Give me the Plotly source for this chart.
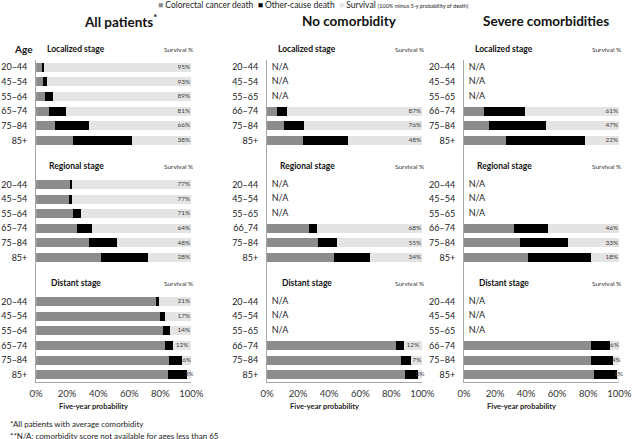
import plotly.graph_objects as go

# age groups per panel (three stages x six ages)
ages_all = ["20–44", "45–54", "55–64", "65–74", "75–84", "85+"] * 3
ages_none = (["20–44", "45–54", "55–65", "66–74", "75–84", "85+"]
             + ["20–44", "45–54", "55–65", "66_74", "75–84", "85+"]
             + ["20–44", "45–54", "55–65", "66–74", "75–84", "85+"])
ages_severe = ["20–44", "45–54", "55–65", "66–74", "75–84", "85+"] * 3
stages = ["Localized stage", "Regional stage", "Distant stage"]
ticks_x = [0, 20, 40, 60, 80, 100]

# five-year probabilities (%), None = N/A
all_crc = [3.5, 4.5, 5.5, 8, 12, 24, 22, 21, 24, 26.5, 34, 42, 77, 80, 82, 83, 85.5, 85]
all_other = [1.5, 2.5, 5.5, 11, 22, 38, 1, 2, 5, 9.5, 18, 30, 2, 3, 4, 5, 8.5, 12]
all_surv = [95, 93, 89, 81, 66, 38, 77, 77, 71, 64, 48, 28, 21, 17, 14, 12, 6, 3]

none_crc = [None, None, None, 6.5, 11, 23, None, None, None, 27, 33, 43, None, None, None, 83, 86, 89]
none_other = [None, None, None, 6.5, 13, 29, None, None, None, 5, 12, 23, None, None, None, 5, 7, 8]
none_surv = [None, None, None, 87, 76, 48, None, None, None, 68, 55, 34, None, None, None, 12, 7, 3]

sev_crc = [None, None, None, 13, 16, 27, None, None, None, 32, 36, 41, None, None, None, 82, 82, 84]
sev_other = [None, None, None, 26, 37, 51, None, None, None, 22, 31, 41, None, None, None, 12, 14, 15]
sev_surv = [None, None, None, 61, 47, 22, None, None, None, 46, 33, 18, None, None, None, 6, 4, 1]

panels = [
    ("All patients<sup>*</sup>", ages_all, all_crc, all_other, all_surv),
    ("No comorbidity", ages_none, none_crc, none_other, none_surv),
    ("Severe comorbidities", ages_severe, sev_crc, sev_other, sev_surv),
]

C_CRC = "#8c8c8c"
C_OTHER = "#000000"
C_SURV = "#e4e4e4"
AXIS_C = "#a6a6a6"
FONT = "Lato"

W, H = 640, 439
x_domains = [(30, 190), (268, 428), (471, 631)]
title_x = [117, 353, 556]
y_dom = [1 - 382 / H, 1 - 60 / H]
Y_RANGE = [21.5, -0.5]
rows = [s * 8 + i for s in range(3) for i in range(6)]


def row_paper(v):
    return y_dom[0] + (Y_RANGE[0] - v) / (Y_RANGE[0] - Y_RANGE[1]) * (y_dom[1] - y_dom[0])


def note(text, x, y, xref="paper", xanchor="center", size=8, color="#222222"):
    return dict(text=text, x=x, y=y, xref=xref, yref="paper", xanchor=xanchor,
                yanchor="middle", showarrow=False,
                font=dict(family=FONT, size=size, color=color))


fig = go.Figure()
annotations = []

for k, (title, ages, crc, other, surv) in enumerate(panels):
    xa = "x" if k == 0 else f"x{k + 1}"
    ya = "y" if k == 0 else f"y{k + 1}"
    for vals, col in [(crc, C_CRC), (other, C_OTHER), (surv, C_SURV)]:
        fig.add_trace(go.Bar(x=vals, y=rows, orientation="h", width=0.62,
                             marker=dict(color=col, line=dict(width=0)),
                             xaxis=xa, yaxis=ya, showlegend=False))

    # survival % labels at the end of each bar, N/A where no data
    lx, ly, lt, lp = [], [], [], []
    nx, ny = [], []
    for r, s in zip(rows, surv):
        if s is None:
            nx.append(3)
            ny.append(r)
            continue
        if s >= 14:
            lx.append(99.3)
            lp.append("middle left")
        else:
            lx.append(100 - s / 2)
            lp.append("middle center")
        ly.append(r)
        lt.append(f"{s}%")
    fig.add_trace(go.Scatter(x=lx, y=ly, text=lt, mode="text", textposition=lp,
                             textfont=dict(family=FONT, size=6.5, color="#404040"),
                             cliponaxis=False, xaxis=xa, yaxis=ya, showlegend=False))
    if nx:
        fig.add_trace(go.Scatter(x=nx, y=ny, text=["N/A"] * len(nx), mode="text",
                                 textposition="middle right",
                                 textfont=dict(family=FONT, size=9, color="#222222"),
                                 cliponaxis=False, xaxis=xa, yaxis=ya, showlegend=False))

    d0, d1 = x_domains[k]
    fig.update_layout({
        ("xaxis" if k == 0 else f"xaxis{k + 1}"): dict(
            domain=[d0 / W, d1 / W], range=[0, 100], anchor=ya,
            tickvals=ticks_x, ticktext=[f"{t}%" for t in ticks_x],
            showline=True, linecolor=AXIS_C, linewidth=1, showgrid=False, zeroline=False,
            ticks="", ticklabelstandoff=3,
            tickfont=dict(family=FONT, size=9.5, color="#333333")),
        ("yaxis" if k == 0 else f"yaxis{k + 1}"): dict(
            domain=y_dom, range=Y_RANGE, anchor=xa,
            tickvals=rows, ticktext=ages,
            showline=True, linecolor=AXIS_C, linewidth=1, showgrid=False, zeroline=False,
            ticks="", ticklabelstandoff=6,
            tickfont=dict(family=FONT, size=9, color="#222222")),
    })

    annotations.append(note(f"<b>{title}</b>", title_x[k] / W, 1 - 21 / H, size=13.5, color="#111111"))
    for s, name in enumerate(stages):
        yp = row_paper(s * 8 - 1.25)
        annotations.append(note(f"<b>{name}</b>", 26, yp, xref=xa, size=8.5, color="#111111"))
        annotations.append(note("Survival %", 92, yp, xref=xa, size=6.5, color="#333333"))
    annotations.append(note("<b>Five-year probability</b>", 37, 1 - 406 / H, xref=xa, size=7.5))

annotations.append(note("<b>Age</b>", 17 / W, 1 - 49 / H, size=10, color="#111111"))

# legend line
legend_text = (f"<span style='color:{C_CRC}'>■</span> Colorectal cancer death  "
               f"<span style='color:{C_OTHER}'>■</span> Other-cause death  "
               f"<span style='color:{C_SURV}'>■</span> Survival "
               "<span style='font-size:5.5px'>(100% minus 5-y probability of death)</span>")
annotations.append(note(legend_text, 316 / W, 1 - 5 / H, size=8.5))

# footnotes
annotations.append(note("*All patients with average comorbidity", 1 / W, 1 - 424 / H, xanchor="left"))
annotations.append(note("**N/A: comorbidity score not available for ages less than 65",
                        1 / W, 1 - 435.5 / H, xanchor="left"))

fig.update_layout(
    barmode="stack",
    width=W, height=H,
    margin=dict(l=0, r=0, t=0, b=0),
    paper_bgcolor="white", plot_bgcolor="white",
    annotations=annotations,
    font=dict(family=FONT),
)

fig.write_html("out.html", config={"displayModeBar": False},
               post_script="document.body.style.margin='0';")
